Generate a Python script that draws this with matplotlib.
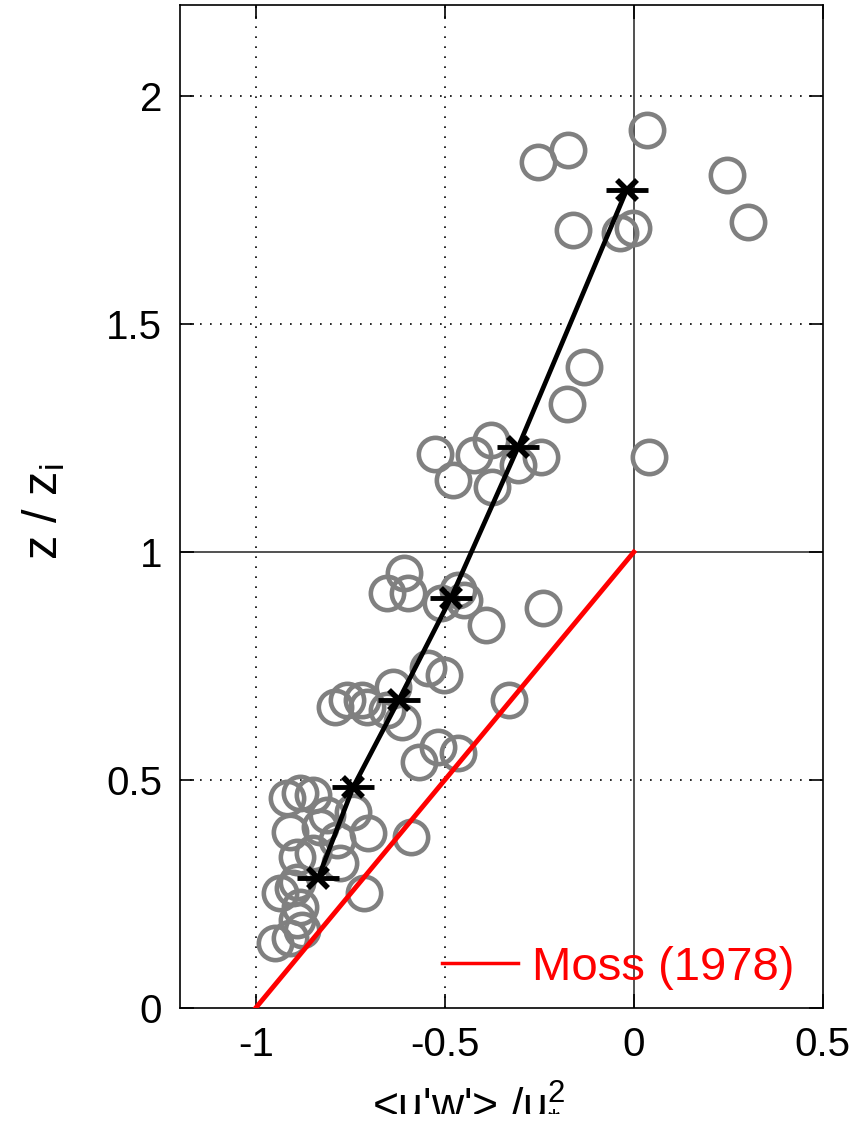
import numpy as np
import matplotlib.pyplot as plt

plt.rcParams['font.family'] = ['Liberation Sans', 'DejaVu Sans']
plt.rcParams['mathtext.default'] = 'regular'

# individual profiles (grey circles)
obs_x = [0.035, -0.253, -0.173, 0.247, 0.301, -0.16, -0.037, -0.003,
         -0.133, -0.178, 0.04,
         -0.527, -0.378, -0.423, -0.245, -0.306, -0.479, -0.375,
         -0.609, -0.654, -0.598, -0.465, -0.449, -0.511, -0.391, -0.239,
         -0.545, -0.503, -0.636, -0.79, -0.758, -0.718, -0.705, -0.612,
         -0.33, -0.569, -0.519, -0.465, -0.652,
         -0.918, -0.883, -0.848, -0.742, -0.811, -0.91, -0.83, -0.702,
         -0.59, -0.785, -0.891, -0.848, -0.777, -0.936, -0.902, -0.715,
         -0.883, -0.891, -0.878, -0.949, -0.91, -0.891]
obs_z = [1.925, 1.855, 1.882, 1.827, 1.724, 1.706, 1.70, 1.71,
         1.406, 1.325, 1.208,
         1.215, 1.246, 1.213, 1.208, 1.19, 1.158, 1.143,
         0.954, 0.91, 0.91, 0.917, 0.895, 0.888, 0.84, 0.877,
         0.746, 0.730, 0.704, 0.66, 0.675, 0.675, 0.66, 0.627,
         0.675, 0.539, 0.572, 0.559, 0.653,
         0.46, 0.471, 0.467, 0.43, 0.423, 0.386, 0.397, 0.384,
         0.375, 0.368, 0.331, 0.34, 0.318, 0.252, 0.263, 0.252,
         0.221, 0.193, 0.171, 0.143, 0.154, 0.276]

# bin averages
mean_x = [-0.835, -0.742, -0.622, -0.484, -0.306, -0.019]
mean_z = [0.285, 0.485, 0.675, 0.899, 1.23, 1.794]

# Moss (1978)
moss_x = [-1, 0]
moss_z = [0, 1]

fig = plt.figure(figsize=(8.58, 11.35), dpi=100)
ax = fig.add_axes([0.21, 0.112, 0.749, 0.8836])

# grid: dotted, with solid lines at x=0 and z=1
for gx in [-1, -0.5]:
    ax.axvline(gx, color='black', linestyle=(0, (1, 5)), linewidth=1.2, zorder=0)
for gz in [0.5, 1.5, 2]:
    ax.axhline(gz, color='black', linestyle=(0, (1, 5)), linewidth=1.2, zorder=0)
ax.axvline(0, color='#333333', linewidth=1.2, zorder=0)
ax.axhline(1, color='#333333', linewidth=1.2, zorder=0)

ax.plot(obs_x, obs_z, 'o', markersize=24, markerfacecolor='none',
        markeredgecolor='#808080', markeredgewidth=3.3, zorder=2)
ax.plot(moss_x, moss_z, color='red', linewidth=3.5, zorder=3, label='Moss (1978)')
ax.plot(mean_x, mean_z, color='black', linewidth=3.4, zorder=4)
ax.plot(mean_x, mean_z, 'x', color='black', markersize=15, markeredgewidth=4, zorder=5)
ax.plot(mean_x, mean_z, '_', color='black', markersize=30, markeredgewidth=3.5, zorder=5)

ax.set_xlim(-1.2, 0.5)
ax.set_ylim(0, 2.2)
ax.set_xticks([-1, -0.5, 0, 0.5])
ax.set_xticklabels(['-1', '-0.5', '0', '0.5'])
ax.set_yticks([0, 0.5, 1, 1.5, 2])
ax.set_yticklabels(['0', '0.5', '1', '1.5', '2'])
ax.tick_params(direction='in', length=10, width=1.2, labelsize=29, pad=13,
               top=True, right=True)
for s in ax.spines.values():
    s.set_linewidth(1.2)

# axis labels placed in figure coordinates
fig.text(372 / 858, 16 / 1135, r"<u'w'> /u$_{*}^{2}$", fontsize=32,
         ha='left', va='bottom')
fig.text(20 / 858, 1 - 512 / 1135, r"z / z$_{i}$", fontsize=35,
         rotation=90, ha='left', va='center')

leg = ax.legend(loc='lower right', bbox_to_anchor=(1.0, -0.01), frameon=False,
                fontsize=34, handlelength=1.6, handletextpad=0.3,
                labelcolor='linecolor', borderaxespad=0.2)
leg.get_lines()[0].set_linewidth(2.5)

fig.savefig('out.png', dpi=100)
